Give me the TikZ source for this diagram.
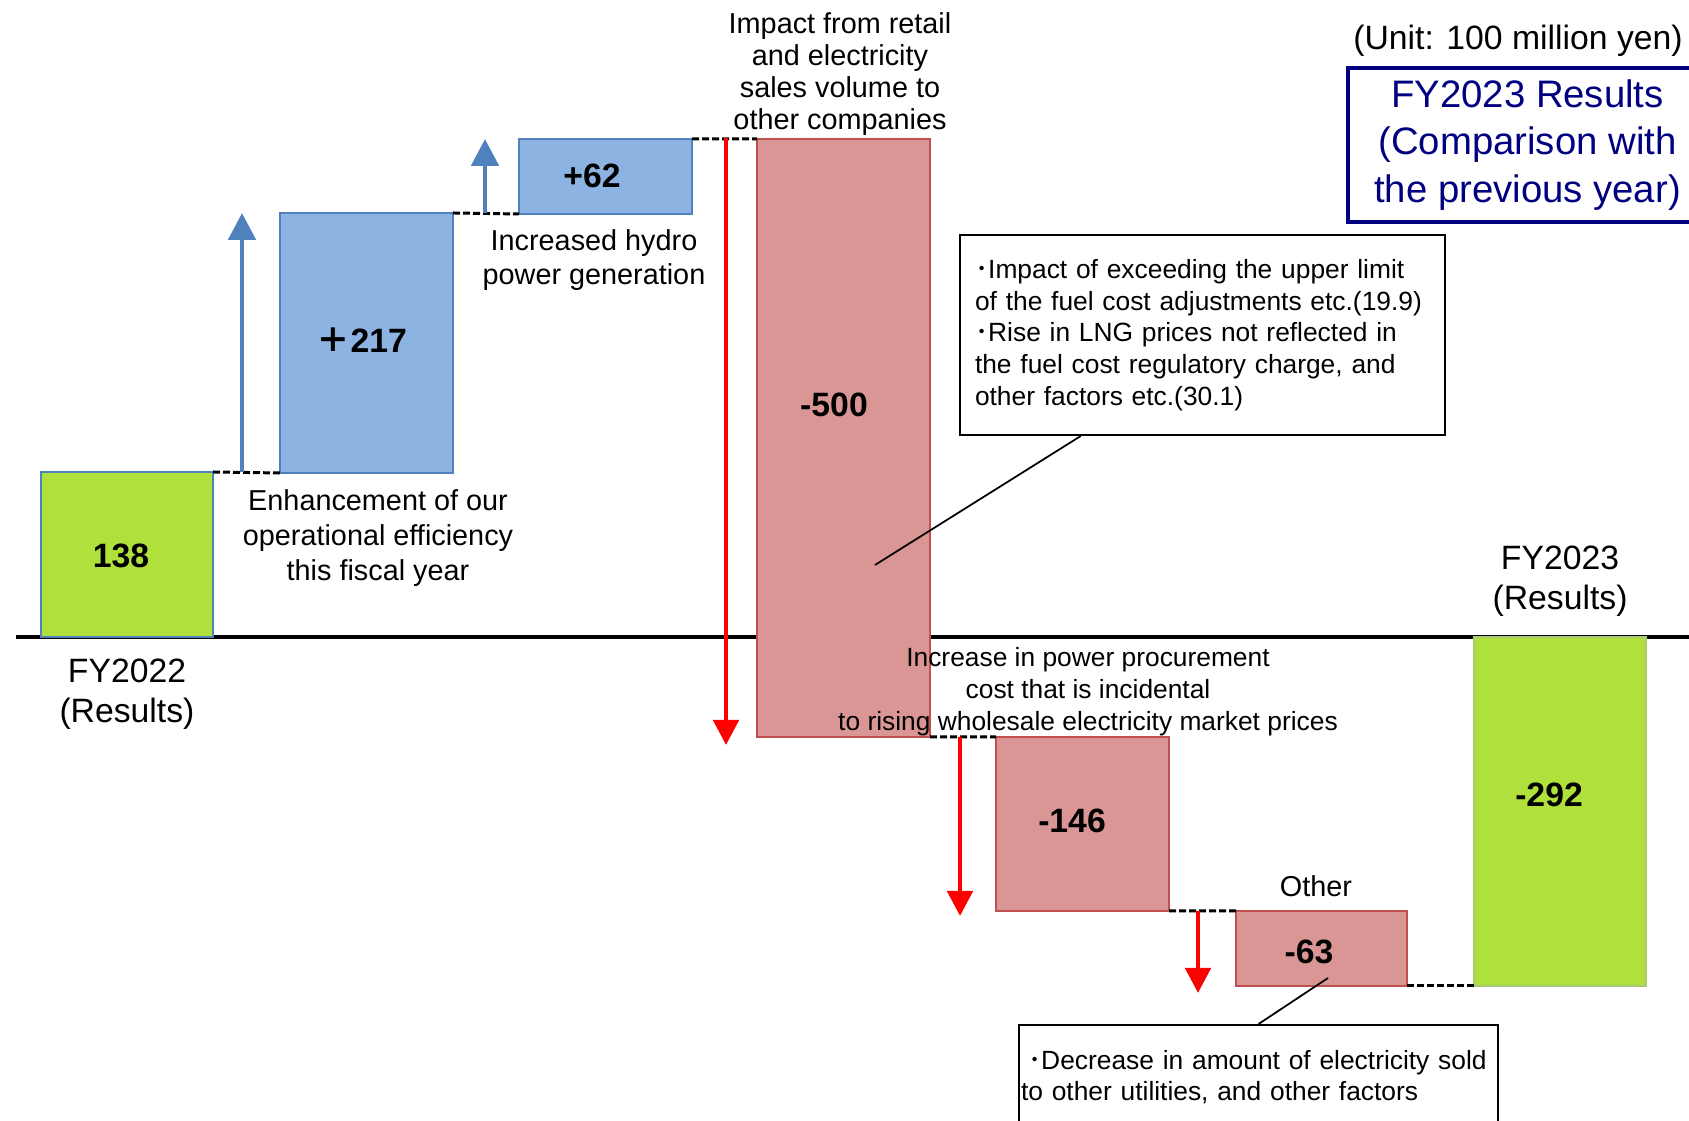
\documentclass[tikz,border=0pt]{standalone}
\usepackage{fontspec}
\setmainfont{Liberation Sans}
\newfontfamily\cjk{Noto Sans CJK JP}
\usepackage{xcolor}
\usetikzlibrary{arrows.meta,calc}
\definecolor{WFGreen}{HTML}{B0E03C}
\definecolor{WFGreenLine}{HTML}{A8C878}
\definecolor{WFBlue}{HTML}{8DB3E2}
\definecolor{WFBlueLine}{HTML}{4F81BD}
\definecolor{WFRed}{HTML}{D99694}
\definecolor{WFRedLine}{HTML}{C0504D}
\definecolor{WFArrowRed}{HTML}{FF0000}
\definecolor{WFNavy}{HTML}{000080}

\begin{document}
\begin{tikzpicture}[x=1cm,y=1cm,
  bar/.style={anchor=south west,inner sep=0pt,outer sep=0pt,line width=.6pt},
  gainbar/.style={bar,fill=WFBlue,draw=WFBlueLine},
  lossbar/.style={bar,fill=WFRed,draw=WFRedLine},
  totalbar/.style={bar,fill=WFGreen,draw=#1},
  num/.style={font=\fontsize{9.6}{11}\selectfont\bfseries},
  lbl/.style={align=center,inner sep=0pt,font=\fontsize{8.2}{9.9}\selectfont},
  yr/.style={align=center,inner sep=0pt,font=\fontsize{9.6}{11.3}\selectfont},
  link/.style={dash pattern=on .07cm off .03cm,line width=.85pt},
  uparrow/.style={WFBlueLine,line width=1.4pt,-{Triangle[width=.27cm,length=.27cm]}},
  downarrow/.style={WFArrowRed,line width=1.4pt,-{Triangle[width=.25cm,length=.25cm]}},
  note/.style={draw,line width=.6pt,align=left,inner sep=0pt,font=\fontsize{7.5}{9}\selectfont}]
\path[use as bounding box] (0,0) rectangle (16.89,11.21);
\clip (0,0) rectangle (16.89,11.21);
\draw[line width=1.2pt] (0.16,4.84) -- (16.89,4.84);
\node[totalbar=WFBlueLine,minimum width=1.72cm,minimum height=1.65cm] (b138) at (0.41,4.84) {};
\node[gainbar,minimum width=1.73cm,minimum height=2.60cm] (b217) at (2.80,6.48) {};
\node[gainbar,minimum width=1.73cm,minimum height=.75cm] (b62) at (5.19,9.07) {};
\node[lossbar,minimum width=1.73cm,minimum height=5.98cm] (b500) at (7.57,3.84) {};
\node[lossbar,minimum width=1.73cm,minimum height=1.74cm] (b146) at (9.96,2.10) {};
\node[lossbar,minimum width=1.71cm,minimum height=.75cm] (b63) at (12.36,1.35) {};
\node[totalbar=WFGreenLine,minimum width=1.72cm,minimum height=3.49cm] (b292) at (14.74,1.35) {};
\draw[link] (b138.north east) -- (b217.south west);
\draw[link] (b217.north east) -- (b62.south west);
\draw[link] (b62.north east) -- (b500.north west);
\draw[link] (b500.south east) -- (b146.north west);
\draw[link] (b146.south east) -- (b63.north west);
\draw[link] (b63.south east) -- (b292.south west);
\coordinate (up1) at (2.42,6.49);
\coordinate (up2) at (4.85,9.08);
\coordinate (dn1) at (7.26,9.83);
\coordinate (dn2) at (9.60,3.84);
\coordinate (dn3) at (11.98,2.10);
\draw[uparrow] (up1) -- (up1 |- b217.north);
\draw[uparrow] (up2) -- (up2 |- b62.north);
\draw[downarrow] (dn1) -- ([yshift=-.08cm]dn1 |- b500.south);
\draw[downarrow] (dn2) -- ([yshift=-.05cm]dn2 |- b146.south);
\draw[downarrow] (dn3) -- ([yshift=-.07cm]dn3 |- b63.south);
\node[num] (v138) at (1.21,5.65) {138};
\node[num] (v217) at (3.62,7.81) {{\cjk ＋}217};
\node[num] (v62) at (5.92,9.45) {+62};
\node[num] (v500) at (8.34,7.16) {-500};
\node[num] (v146) at (10.72,3.00) {-146};
\node[num] (v63) at (13.09,1.69) {-63};
\node[num] (v292) at (15.49,3.26) {-292};
\node[lbl] (l217) at (3.78,5.83) {Enhancement of our\\operational efficiency\\this fiscal year};
\node[lbl] (l62) at (5.94,8.61) {Increased hydro\\power generation};
\node[lbl,font=\fontsize{8.2}{9.1}\selectfont] (l500) at (8.40,10.47) {Impact from retail\\and electricity\\sales volume to\\other companies};
\node[lbl,font=\fontsize{7.5}{9.1}\selectfont] (l146) at (10.88,4.29) {Increase in power procurement\\cost that is incidental\\to rising wholesale electricity market prices};
\node[lbl] (l63) at (13.16,2.35) {Other};
\node[yr] (fy22) at (1.27,4.27) {FY2022\\(Results)};
\node[yr] (fy23) at (15.60,5.40) {FY2023\\(Results)};
\node[font=\fontsize{9.6}{11}\selectfont,inner sep=0pt] (unit) at (15.18,10.80) {(Unit: 100 million yen)};
\node[draw=WFNavy,line width=1.2pt,text=WFNavy,align=center,inner sep=0pt,
  font=\fontsize{10.9}{13.5}\selectfont,minimum width=3.59cm,minimum height=1.54cm] (title) at (15.275,9.76)
  {FY2023 Results\\(Comparison with\\the previous year)};
\node[note,text width=4.55cm,inner xsep=.15cm,minimum height=2.0cm] (noteA) at (12.025,7.86)
  {{\cjk ･}Impact of exceeding the upper limit\\of the fuel cost adjustments etc.(19.9)\\{\cjk ･}Rise in LNG prices not reflected in\\the fuel cost regulatory charge, and\\other factors etc.(30.1)};
\node[note,text width=4.75cm,inner xsep=.02cm,minimum height=1.04cm,anchor=north west] (noteB) at (10.18,0.97)
  {\hspace{.07cm}{\cjk ･}Decrease in amount of electricity sold\\to other utilities, and other factors};
\coordinate (pA) at (8.75,5.56);
\coordinate (pB) at (13.28,1.43);
\draw[line width=.5pt] ($(noteA.south west)!.25!(noteA.south east)$) -- (pA);
\draw[line width=.5pt] (noteB.north) -- (pB);
\end{tikzpicture}
\end{document}
